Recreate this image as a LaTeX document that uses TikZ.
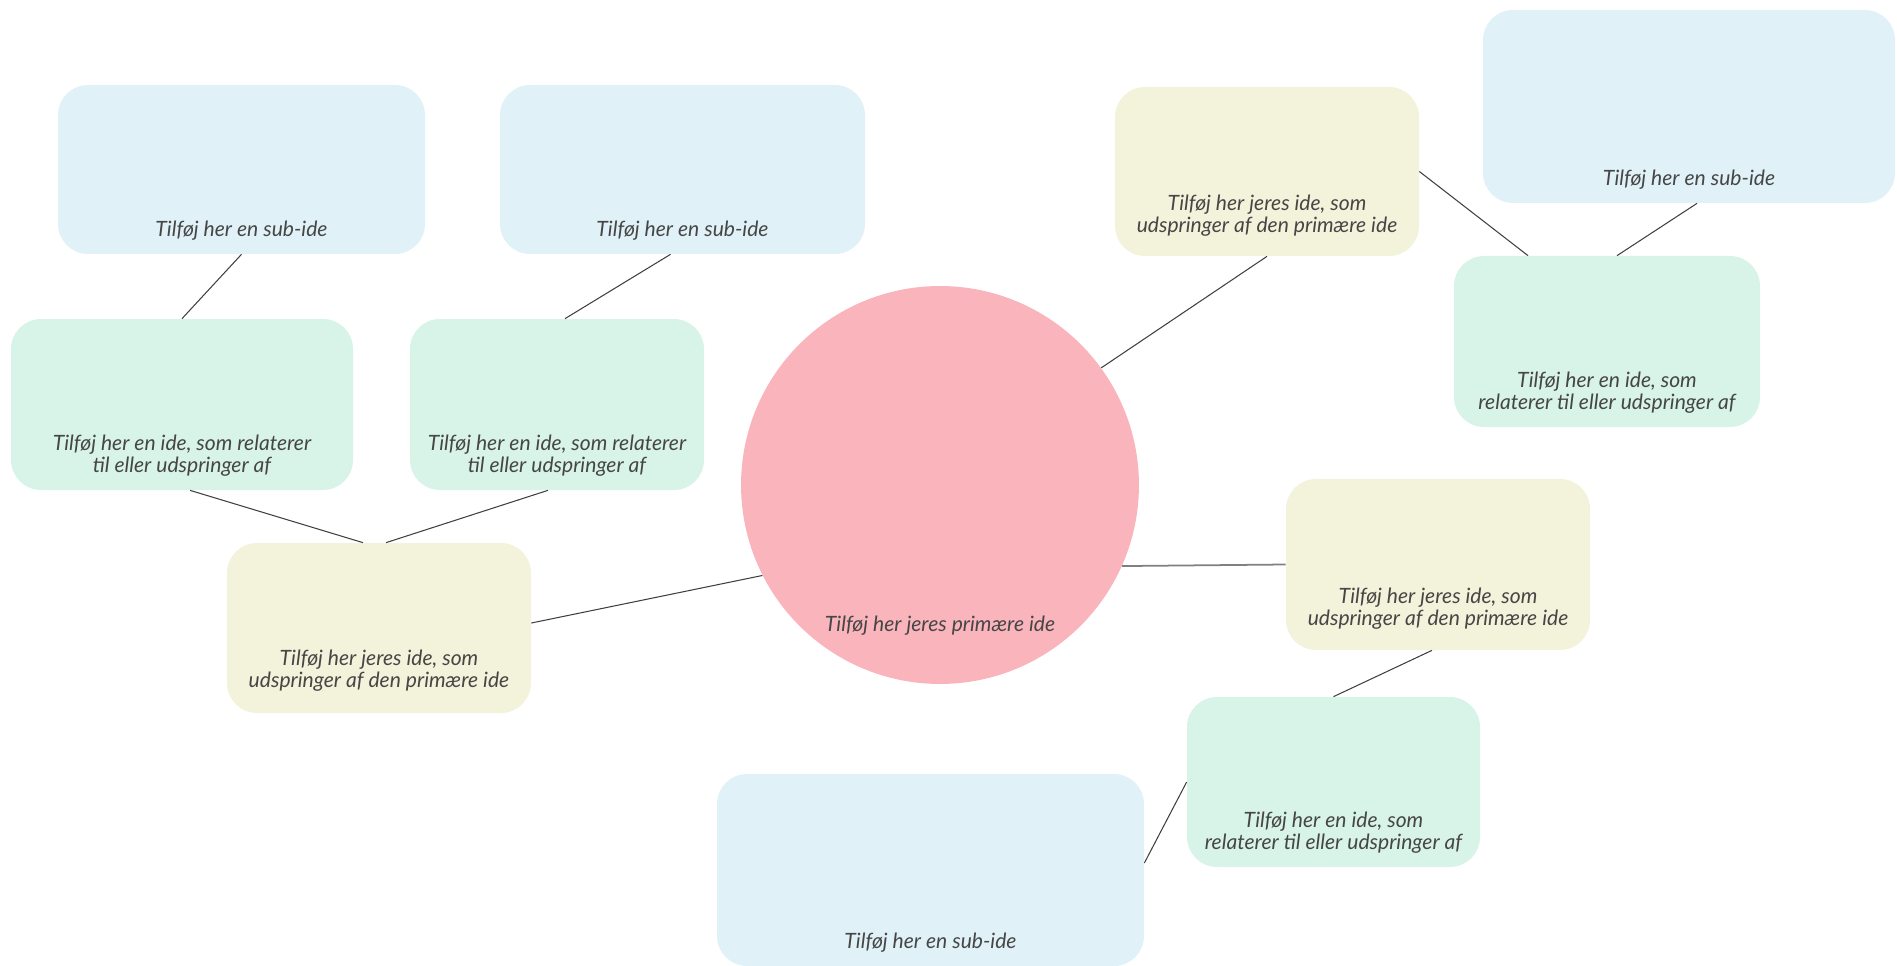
\documentclass[tikz,border=0pt]{standalone}
\usepackage{fontspec}
\newfontfamily\idefont{Lato}
\usetikzlibrary{positioning, calc}
\definecolor{blaa}{RGB}{224,242,248}
\definecolor{groen}{RGB}{216,243,232}
\definecolor{gul}{RGB}{243,242,218}
\definecolor{rosa}{RGB}{250,180,188}
\definecolor{tekst}{RGB}{70,70,70}
\newlength\pxl
\setlength\pxl{0.02cm}
\newcommand\idebox[4][6pt]{\parbox[c][#3\pxl][b]{#2\pxl}{\centering #4\strut\par\vspace{#1}}}
\tikzset{kasse/.style={rounded corners=0.6cm, inner sep=0pt}}
\tikzset{streg/.style={line width=0.6pt, draw=black!75}}

\begin{document}
\begin{tikzpicture}[
                x=0.02cm, y=-0.02cm,
                every node/.style={text=tekst, font=\idefont\itshape\fontsize{12}{12.5}\selectfont}
            ]
                \useasboundingbox (0,0) rectangle (1897,966);
                \node[circle, fill=rosa, minimum size=7.96cm, inner sep=0pt] (kerne) at (940,485) {\smash{\raisebox{-2.93cm}{Tilføj her jeres primære ide}}};

                \node[kasse, fill=blaa] (sub1) at (241.5,169.5) {\idebox{367}{169}{Tilføj her en sub-ide}};
                \node[kasse, fill=blaa] (sub2) at (682.5,169.5) {\idebox{365}{169}{Tilføj her en sub-ide}};
                \node[kasse, fill=groen] (rel1) at (182,404.5) {\idebox{342}{171}{Tilføj her en ide, som relaterer\\til eller udspringer af}};
                \node[kasse, fill=groen] (rel2) at (557,404.5) {\idebox{294}{171}{Tilføj her en ide, som relaterer\\til eller udspringer af}};
                \node[kasse, fill=gul] (ide1) at (379,628) {\idebox[11pt]{304}{170}{Tilføj her jeres ide, som\\udspringer af den primære ide}};

                \node[kasse, fill=gul] (ide2) at (1267,171.5) {\idebox[9.5pt]{304}{169}{Tilføj her jeres ide, som\\udspringer af den primære ide}};
                \node[kasse, fill=blaa] (sub3) at (1689,106.5) {\idebox{412}{193}{Tilføj her en sub-ide}};
                \node[kasse, fill=groen] (rel3) at (1607,341.5) {\idebox{306}{171}{Tilføj her en ide, som\\relaterer til eller udspringer af}};
                \node[kasse, fill=gul] (ide3) at (1438,564.5) {\idebox[10pt]{304}{171}{Tilføj her jeres ide, som\\udspringer af den primære ide}};
                \node[kasse, fill=groen] (rel4) at (1333.5,782) {\idebox{293}{170}{Tilføj her en ide, som\\relaterer til eller udspringer af}};
                \node[kasse, fill=blaa] (sub4) at (930.5,870) {\idebox{427}{192}{Tilføj her en sub-ide}};

                \draw[streg] (sub1.south) -- (rel1.north);
                \draw[streg] ($(sub2.south)+(-12,0)$) -- ($(rel2.north)+(8,0)$);
                \draw[streg] ($(rel1.south)+(8,0)$) -- ($(ide1.north)+(-16,0)$);
                \draw[streg] ($(rel2.south)+(-9,0)$) -- ($(ide1.north)+(7,0)$);
                \draw[streg] ($(ide1.east)+(0,-5)$) -- (kerne.207);
                \draw[streg] (kerne.36) -- (ide2.south);
                \draw[streg] (ide2.east) -- ($(rel3.north)+(-79,0)$);
                \draw[streg] ($(sub3.south)+(8,0)$) -- ($(rel3.north)+(10,0)$);
                \draw[streg, draw=black!50, line width=1pt] (kerne.-24) -- (ide3.west);
                \draw[streg] ($(ide3.south)+(-6,0)$) -- (rel4.north);
                \draw[streg] (rel4.west) -- ($(sub4.east)+(0,-7)$);
            \end{tikzpicture}
\end{document}
